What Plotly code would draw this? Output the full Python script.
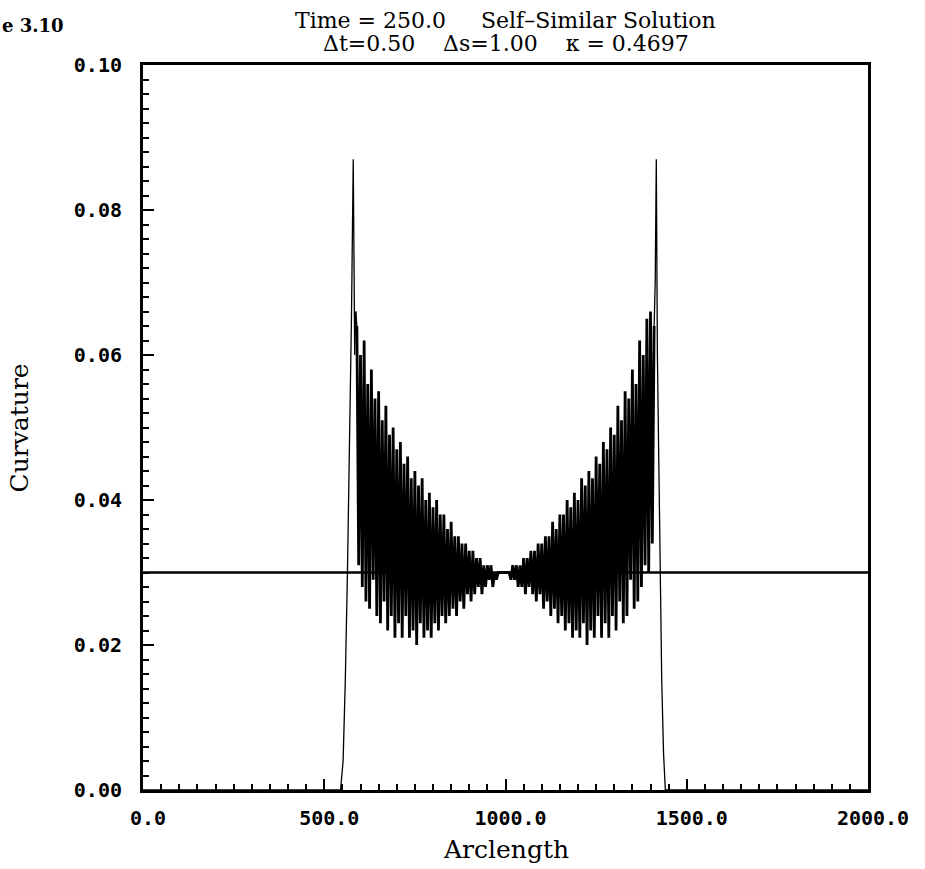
import plotly.graph_objects as go

# ---- data ----
ref_s = [0.0, 2000.0]
ref_k = [0.030, 0.030]

edge_left_s = [0.0, 545, 552, 558, 564, 570, 575, 580, 584, 587]
edge_left_k = [0.0, 0.0, 0.004, 0.015, 0.030, 0.048, 0.065, 0.087, 0.060, 0.066]

band_left_s = list(range(590, 1001, 5))
band_left_k = [
    0.064, 0.031, 0.060, 0.028, 0.062, 0.026, 0.056, 0.025, 0.058, 0.029,
    0.054, 0.024, 0.055, 0.023, 0.051, 0.026, 0.053, 0.022, 0.049, 0.024,
    0.050, 0.021, 0.047, 0.023, 0.048, 0.021, 0.045, 0.024, 0.046, 0.021,
    0.043, 0.022, 0.044, 0.020, 0.042, 0.023, 0.043, 0.021, 0.040, 0.022,
    0.041, 0.021, 0.039, 0.023, 0.040, 0.022, 0.038, 0.024, 0.038, 0.023,
    0.036, 0.024, 0.037, 0.025, 0.035, 0.024, 0.035, 0.026, 0.034, 0.025,
    0.034, 0.027, 0.033, 0.026, 0.033, 0.027, 0.032, 0.028, 0.032, 0.027,
    0.031, 0.028, 0.031, 0.029, 0.031, 0.028, 0.030, 0.029, 0.030, 0.030,
    0.030, 0.030, 0.030,
]

band_right_s = list(range(1005, 1411, 5))
band_right_k = [
    0.030, 0.030, 0.029, 0.031, 0.029, 0.031, 0.028, 0.031, 0.028, 0.032,
    0.027, 0.032, 0.028, 0.033, 0.027, 0.033, 0.026, 0.034, 0.027, 0.034,
    0.025, 0.035, 0.026, 0.035, 0.024, 0.037, 0.025, 0.036, 0.023, 0.038,
    0.024, 0.038, 0.022, 0.040, 0.023, 0.039, 0.021, 0.041, 0.022, 0.040,
    0.021, 0.043, 0.023, 0.042, 0.020, 0.044, 0.022, 0.043, 0.021, 0.046,
    0.024, 0.045, 0.021, 0.048, 0.023, 0.047, 0.021, 0.050, 0.024, 0.049,
    0.022, 0.053, 0.026, 0.051, 0.023, 0.055, 0.024, 0.054, 0.029, 0.058,
    0.025, 0.056, 0.026, 0.062, 0.028, 0.060, 0.031, 0.065, 0.030, 0.066,
    0.034, 0.064,
]

edge_right_s = [1413, 1416, 1419, 1423, 1427, 1431, 1436, 1441, 2000.0]
edge_right_k = [0.070, 0.087, 0.060, 0.045, 0.030, 0.015, 0.005, 0.0, 0.0]

x_ticks = [0, 500, 1000, 1500, 2000]
x_tick_text = ["0.0", "500.0", "1000.0", "1500.0", "2000.0"]
y_ticks = [0.00, 0.02, 0.04, 0.06, 0.08, 0.10]
y_tick_text = ["0.00", "0.02", "0.04", "0.06", "0.08", "0.10"]

title_line1 = "Time = 250.0     Self\u2013Similar Solution"
title_line2 = "\u0394t=0.50    \u0394s=1.00    \u03ba = 0.4697"
x_title = "Arclength"
y_title = "Curvature"
fig_label = "e 3.10"

fig = go.Figure()
fig.add_trace(go.Scatter(x=edge_left_s, y=edge_left_k, mode="lines",
                         line=dict(color="black", width=1.3), showlegend=False))
fig.add_trace(go.Scatter(x=band_left_s + band_right_s, y=band_left_k + band_right_k, mode="lines",
                         line=dict(color="black", width=2.8), showlegend=False))
fig.add_trace(go.Scatter(x=[edge_left_s[-1], band_left_s[0]], y=[edge_left_k[-1], band_left_k[0]],
                         mode="lines", line=dict(color="black", width=1.3), showlegend=False))
fig.add_trace(go.Scatter(x=[band_right_s[-1]] + edge_right_s, y=[band_right_k[-1]] + edge_right_k,
                         mode="lines", line=dict(color="black", width=1.3), showlegend=False))
fig.add_trace(go.Scatter(x=ref_s, y=ref_k, mode="lines",
                         line=dict(color="black", width=2.6), showlegend=False))

serif = "DejaVu Serif"
tickf = dict(family="DejaVu Sans Mono", size=20, color="black", weight="bold")

fig.update_layout(
    width=925, height=869,
    margin=dict(l=143, r=57, t=65, b=79),
    paper_bgcolor="white", plot_bgcolor="white",
    xaxis=dict(range=[0, 2000], tickvals=x_ticks, ticktext=x_tick_text,
               ticks="inside", ticklen=11, tickwidth=2, tickcolor="black",
               minor=dict(dtick=50, ticks="inside", ticklen=6, tickwidth=1.5, tickcolor="black"),
               showline=True, linewidth=3, linecolor="black", mirror=True,
               showgrid=False, zeroline=False, tickfont=tickf, ticklabelshift=5,
               ticklabelstandoff=8),
    yaxis=dict(range=[0, 0.10], tickvals=y_ticks, ticktext=y_tick_text,
               ticks="inside", ticklen=11, tickwidth=2, tickcolor="black",
               minor=dict(dtick=0.002, ticks="inside", ticklen=6, tickwidth=1.5, tickcolor="black"),
               showline=True, linewidth=3, linecolor="black", mirror=True,
               showgrid=False, zeroline=False, tickfont=tickf, ticklabelstandoff=14),
    annotations=[
        dict(text=title_line1, xref="paper", yref="paper", x=0.5, y=1.061,
             xanchor="center", yanchor="middle", showarrow=False,
             font=dict(family=serif, size=22, color="black")),
        dict(text=title_line2, xref="paper", yref="paper", x=0.5, y=1.0297,
             xanchor="center", yanchor="middle", showarrow=False,
             font=dict(family=serif, size=22, color="black")),
        dict(text=x_title, xref="paper", yref="paper", x=0.5, y=-0.0814,
             xanchor="center", yanchor="middle", showarrow=False,
             font=dict(family=serif, size=25, color="black")),
        dict(text=y_title, xref="paper", yref="paper", x=-0.1697, y=0.5,
             xanchor="center", yanchor="middle", showarrow=False, textangle=-90,
             font=dict(family=serif, size=25, color="black")),
        dict(text=fig_label, xref="paper", yref="paper", x=-0.1972, y=1.0538,
             xanchor="left", yanchor="middle", showarrow=False,
             font=dict(family=serif, size=18, color="black", weight="bold")),
    ],
)

fig.write_html("out.html")
